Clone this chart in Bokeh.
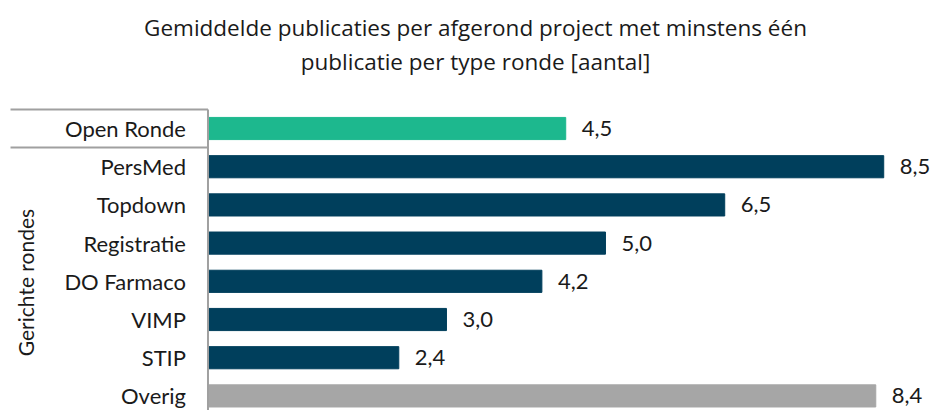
from bokeh.plotting import figure
from bokeh.models import ColumnDataSource, Label, Range1d
from bokeh.embed import file_html
from bokeh.resources import INLINE
from bokeh.core.properties import value

categories = ["Open Ronde", "PersMed", "Topdown", "Registratie", "DO Farmaco", "VIMP", "STIP", "Overig"]
values = [4.5, 8.5, 6.5, 5.0, 4.2, 3.0, 2.4, 8.4]
labels = ["4,5", "8,5", "6,5", "5,0", "4,2", "3,0", "2,4", "8,4"]
colors = ["#1DB88E", "#003F5C", "#003F5C", "#003F5C", "#003F5C", "#003F5C", "#003F5C", "#A6A6A6"]
title_lines = ["Gemiddelde publicaties per afgerond project met minstens één",
               "publicatie per type ronde [aantal]"]
group_label = "Gerichte rondes"

ypos = [-i for i in range(len(categories))]
src = ColumnDataSource(dict(cat=categories, val=values, lab=labels, col=colors, y=ypos,
                            zero=[0] * len(categories)))

W, H = 931, 410
p = figure(width=W, height=H, output_backend="svg", toolbar_location=None,
           x_range=Range1d(-2.610, 9.101), y_range=Range1d(-7.382, 3.351),
           min_border=0, min_border_left=0, min_border_right=0,
           min_border_top=0, min_border_bottom=0)
p.axis.visible = False
p.grid.visible = False
p.outline_line_color = None
p.background_fill_color = "white"
p.border_fill_color = "white"

p.hbar(y="y", left=0, right="val", height=0.58, color="col", source=src)

# value labels
p.text(x="val", y="y", text="lab", source=src, x_offset=16, text_align="left",
       text_baseline="middle", text_font=value("Lato"), text_font_size="22px",
       text_color="#1a1a1a")
# category labels
p.text(x="zero", y="y", text="cat", source=src, x_offset=-22, text_align="right",
       text_baseline="middle", text_font=value("Lato"), text_font_size="22px",
       text_color="#1a1a1a")

# axis and group bracket lines
p.segment(x0=[0], y0=[0.5], x1=[0], y1=[-7.6], line_color="#A0A0A0", line_width=2)
p.segment(x0=[-2.484, -2.484], y0=[0.5, -0.5], x1=[0, 0], y1=[0.5, -0.5],
          line_color="#A0A0A0", line_width=2)

p.add_layout(Label(x=-2.296, y=-4.032, text=group_label, angle=90, angle_units="deg",
                   text_align="center", text_baseline="middle",
                   text_font="Lato", text_font_size="21px", text_color="#1a1a1a"))

for ty, t in zip([2.644, 1.754], title_lines):
    p.add_layout(Label(x=3.365, y=ty, text=t, text_align="center", text_baseline="middle",
                       text_font="Open Sans", text_font_size="22.5px", text_color="#1a1a1a"))

open("out.html", "w").write(file_html(p, INLINE))
